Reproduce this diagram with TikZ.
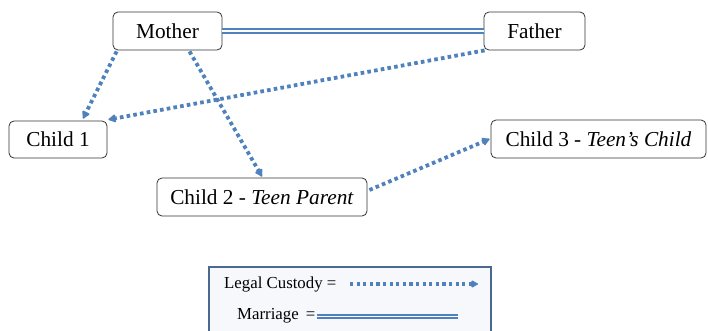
\documentclass[tikz,border=0pt]{standalone}
\usepackage{fontspec}
\setmainfont{Liberation Serif}
\usetikzlibrary{arrows.meta,calc}
\definecolor{linkblue}{HTML}{4F81BD}
\definecolor{legendedge}{HTML}{4A6890}
\definecolor{legendfill}{HTML}{F6F8FC}
\begin{document}
\begin{tikzpicture}[x=1pt,y=-1pt,
  person/.style={draw=black!80, line width=0.8pt, rounded corners=5pt, fill=white,
    inner sep=0pt, font=\fontsize{21.3}{24}\selectfont, anchor=center},
  custody/.style={draw=linkblue, line width=3.8pt, dash pattern=on 3.6pt off 3.2pt,
    -{Latex[length=9pt,width=10pt,round]}, shorten >=0pt},
  marriage/.style={draw=linkblue, double=white, double distance=1.8pt, line width=1.8pt},
  legendtext/.style={font=\fontsize{16.8}{19}\selectfont, anchor=west, inner sep=0pt}]
\useasboundingbox (0,0) rectangle (708,331);

% family members
\node[person, minimum width=109pt, minimum height=38pt] (mother) at (167.5,31) {Mother};
\node[person, minimum width=101pt, minimum height=38pt] (father) at (534.5,31) {Father};
\node[person, minimum width=98pt, minimum height=37pt] (child1) at (58,139.5) {Child 1};
\node[person, minimum width=210pt, minimum height=38pt] (child2) at (262,197) {Child 2 - \textit{Teen Parent}};
\node[person, minimum width=215pt, minimum height=38pt] (child3) at (598.5,139) {Child 3 - \textit{Teen's Child}};

% marriage
\draw[marriage] (mother.east) -- (father.west);

% custody links
\draw[custody] ($(mother.south west)+(4,1)$) -- ($(child1.north)+(25,-2)$);
\draw[custody] ($(mother.south)+(22,1)$) -- ($(child2.north)+(0,-1)$);
\draw[custody] ($(father.south west)+(1,0)$) -- ($(child1.north east)+(1,-1)$);
\draw[custody] ($(child2.east)+(2,-7)$) -- ($(child3.west)+(-1,0)$);

% legend
\node[draw=legendedge, line width=1.8pt, fill=legendfill, minimum width=282pt,
  minimum height=80pt, anchor=north west, inner sep=0pt] (legend) at (208,266) {};
\node[legendtext] (lcust) at (224,284) {Legal Custody =};
\coordinate (custA) at (350,284);
\coordinate (custB) at (478,284);
\draw[custody, line width=3.2pt, dash pattern=on 3.2pt off 3.4pt,
  -{Latex[length=8pt,width=9pt,round]}] (custA) -- (custB);
\node[legendtext] (lmar) at (237,316) {Marriage \,=};
\coordinate (marA) at (317,316.5);
\coordinate (marB) at (458,316.5);
\draw[marriage, line width=1.6pt, double distance=1.6pt] (marA) -- (marB);
\end{tikzpicture}
\end{document}
